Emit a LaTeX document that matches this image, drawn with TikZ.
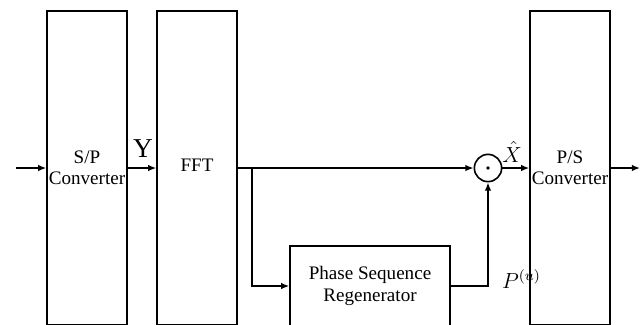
\documentclass[tikz,border=0pt]{standalone}
\usepackage{amsmath,amssymb}
\usepackage{fontspec}
\setmainfont{Liberation Serif}
\usepackage{tikz}
\usetikzlibrary{arrows.meta,positioning,calc}
\tikzset{
  blk/.style={draw, line width=0.8pt, align=center, font=\fontsize{10.5}{12.5}\selectfont},
  tallblk/.style={blk, inner xsep=0pt, minimum width=44pt, minimum height=172.7pt},
  mulnode/.style={circle, draw, line width=0.9pt, minimum size=15pt, inner sep=0pt},
  barr/.style={-{Latex[length=4.5pt,width=3.6pt]}, line width=0.8pt},
  slab/.style={font=\fontsize{12}{14}\selectfont},
}
\begin{document}
\begin{tikzpicture}[x=0.55pt, y=-0.55pt]
  \useasboundingbox (0,0) rectangle (640,324);
  \clip (0,0) rectangle (640,324);
  % blocks
  \node[tallblk] (sp) at (87,168) {S/P\\[-1pt]Converter};
  \node[tallblk] (fft) at (197,168) {\raisebox{3pt}{FFT}};
  \node[tallblk] (ps) at (570,168) {P/S\\[-1pt]Converter};
  \node[blk, minimum width=88pt, minimum height=44pt] (psr) at (370,286) {Phase Sequence\\Regenerator};
  \node[mulnode] (mult) at (488,168) {};
  \fill (mult.center) circle (1.8);
  % free ends
  \coordinate (in) at (16,168);
  \coordinate (br) at (252,168);
  \coordinate (out) at (640,168);
  % connectors
  \draw[barr] (in) -- (sp.west);
  \draw[barr] (sp.east) -- (fft.west);
  \draw[barr] (fft.east) -- (mult.west);
  \draw[barr] (br) |- (psr.west);
  \draw[barr] (psr.east) -| (mult.south);
  \draw[barr] (mult.east) -- (ps.west);
  \draw[barr] (ps.east) -- (out);
  % labels
  \node[font=\fontsize{15}{17}\selectfont] (ylab) at (143,149) {Y};
  \node[slab, inner sep=0pt] (xlab) at (512,152) {$\hat{X}$};
  \node[slab, anchor=west, inner sep=1pt] (plab) at (500,279) {$P^{(u)}$};
\end{tikzpicture}
\end{document}
